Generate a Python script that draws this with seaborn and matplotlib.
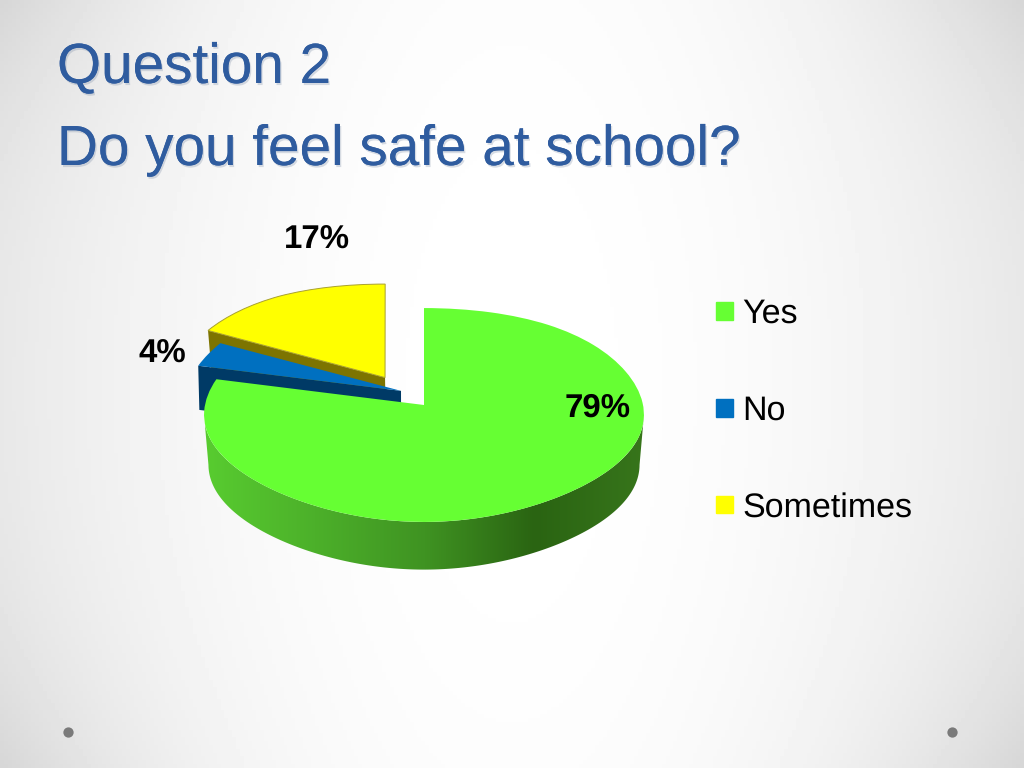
import numpy as np
import matplotlib
matplotlib.use('Agg')
import matplotlib.pyplot as plt
import matplotlib.patches as mpatches
import matplotlib.patheffects as pe
from matplotlib.transforms import Transform
import seaborn as sns

categories = ["Yes", "No", "Sometimes"]
percents = [79, 4, 17]
title_lines = ["Question 2", "Do you feel safe at school?"]

top_colors = ["#66ff33", "#0070c0", "#ffff00"]
wall_colors = [None, "#003a66", "#7d7400"]
green_wall = ["#58cc30", "#4cb02a", "#3f9322", "#2a6412", "#37751b"]


class PieProjection(Transform):
    # tilted pie plane -> pixel coords of the slide
    input_dims = 2
    output_dims = 2
    is_separable = False
    has_inverse = False

    def __init__(self, drop=0.0, shrink=1.0):
        super().__init__()
        self.drop = drop
        self.shrink = shrink

    def transform_non_affine(self, values):
        values = np.asarray(values, dtype=float)
        x, y = values[:, 0], values[:, 1]
        # x^2 keeps the cut edges near the middle vertical like in the slide
        px = 219 * self.shrink * x / (1 + 0.0935 * y * x ** 2) + 424
        py = 405 + self.drop - 106 * self.shrink * y / (1 + 0.0935 * y)
        return np.column_stack([px, py])


def wall_polygon(plane_pts, drop=50, shrink=0.98):
    top = PieProjection().transform_non_affine(plane_pts)
    bottom = PieProjection(drop=drop, shrink=shrink).transform_non_affine(plane_pts)
    return np.vstack([top, bottom[::-1]])


def edge_points(wedge, angle_deg):
    # apex -> rim along one cut edge of a wedge
    cx, cy = wedge.center
    a = np.radians(angle_deg)
    return np.array([[cx, cy], [cx + wedge.r * np.cos(a), cy + wedge.r * np.sin(a)]])


sns.set_theme(style="white")
plt.rcParams['font.family'] = ['Liberation Sans', 'DejaVu Sans']
plt.rcParams['text.hinting'] = 'no_hinting'
plt.rcParams['text.hinting_factor'] = 1

fig = plt.figure(figsize=(10.24, 7.68), dpi=100)
ax = fig.add_axes([0, 0, 1, 1])

# slide background, white in the middle and grey at the corners
yy, xx = np.mgrid[0:768:200j, 0:1024:260j]
u = np.abs(xx - 512) / 512
v = np.abs(yy - 384) / 384
shade = 1 - (0.09 * u ** 2 + 0.01 * v ** 2 + 0.06 * (u * v) ** 3)
ax.imshow(shade, extent=(0, 1024, 768, 0), cmap="gray", vmin=0, vmax=1, aspect="auto", zorder=0)

wedges, _ = ax.pie(percents, colors=top_colors, startangle=90, counterclock=False)
ax.set_aspect("auto")
ax.set_xlim(0, 1024)
ax.set_ylim(768, 0)
ax.axis("off")

green, blue, yellow = wedges
blue.set_center((-0.105, 0.135))
yellow.set_center((-0.178, 0.265))
yellow.set_radius(1.012)

proj = PieProjection() + ax.transData
for w, z in zip(wedges, [6, 4, 2]):
    w.set_transform(proj)
    w.set_zorder(z)
    w.set_linewidth(0)
yellow.set_edgecolor("#a8a030")
yellow.set_linewidth(0.7)

# cut edge walls of the two pulled out slices
ax.add_patch(mpatches.Polygon(wall_polygon(edge_points(yellow, yellow.theta2)),
                              facecolor=wall_colors[2], edgecolor="none", zorder=1))
ax.add_patch(mpatches.Polygon(wall_polygon(edge_points(blue, blue.theta2), drop=44, shrink=0.995),
                              facecolor=wall_colors[1], edgecolor="none", zorder=3))

# rim of the big slice with the shaded gradient, from silhouette to silhouette
theta = np.radians(np.linspace(-174.6, -5.4, 240))
rim = mpatches.Polygon(wall_polygon(np.column_stack([np.cos(theta), np.sin(theta)])),
                       facecolor="none", edgecolor="none", zorder=5)
ax.add_patch(rim)
wall_cmap = sns.blend_palette(green_wall, as_cmap=True)
im = ax.imshow(np.linspace(0, 1, 256).reshape(1, -1), extent=(205, 645, 600, 370),
               cmap=wall_cmap, aspect="auto", zorder=5)
im.set_clip_path(rim)

# percent labels
label_xy = [(598, 408), (162, 354), (317, 240)]
for val, (lx, ly) in zip(percents, label_xy):
    ax.text(lx, ly, f"{val}%", ha="center", va="center", fontsize=23.8,
            fontweight="bold", color="black", zorder=7)

handles = [mpatches.Patch(color=c, label=l) for c, l in zip(top_colors, categories)]
ax.legend(handles=handles, loc="center left", bbox_to_anchor=(716, 411),
          bbox_transform=ax.transData, frameon=False, fontsize=24.3,
          labelspacing=1.925, handlelength=0.5, handleheight=0.423, handletextpad=0.27,
          borderpad=0, borderaxespad=0, labelcolor="black")

shadow = [pe.withSimplePatchShadow(offset=(1, -1.5), shadow_rgbFace="#7f8fa8", alpha=0.3), pe.Normal()]
for line, base in zip(title_lines, [83, 165]):
    ax.text(57, base, line, fontsize=40.8, color="#2f5c9f", ha="left", va="baseline",
            path_effects=shadow, zorder=7)

# the two small dots of the slide theme
ax.scatter([68, 952], [732, 732], s=55, color="#7a7a7a", linewidths=0, zorder=2)

fig.savefig("out.png", dpi=100)
plt.close(fig)
